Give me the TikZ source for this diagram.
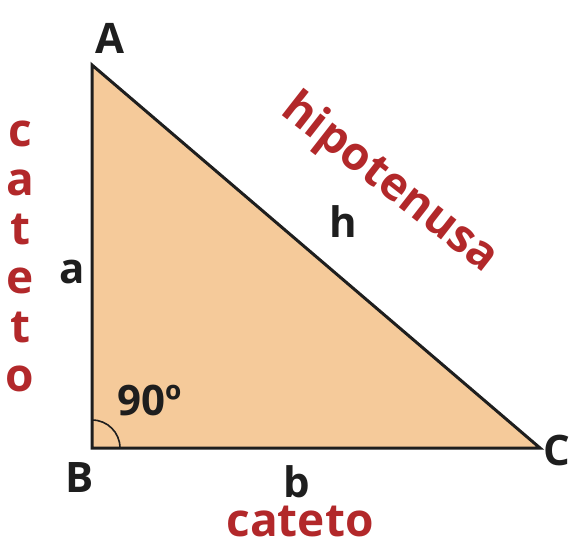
\documentclass[tikz,border=0pt]{standalone}
\usepackage{fontspec}
\setmainfont{Open Sans}
\usepackage{tikz}
\usetikzlibrary{positioning}
\definecolor{triorange}{RGB}{245,202,154}
\definecolor{catred}{RGB}{178,40,42}
\definecolor{edgeblack}{RGB}{30,30,30}

\begin{document}
\begin{tikzpicture}[x=0.5pt, y=0.5pt, font=\bfseries\fontsize{21}{25}\selectfont]
  \useasboundingbox (0,0) rectangle (571,546);
  \tikzset{
    vlabel/.style={text=edgeblack, inner sep=0pt},
    redword/.style={text=catred, inner sep=0pt, font=\bfseries\fontsize{23}{25}\selectfont}
  }
  % vertices
  \coordinate (A) at (92,481);
  \coordinate (B) at (92,98);
  \coordinate (C) at (540,98);
  \fill[triorange] (A) -- (B) -- (C) -- cycle;
  \draw[edgeblack, line width=1.5pt, line join=miter] (A) -- (B) -- (C) -- cycle;
  \draw[edgeblack, line width=0.8pt] ([xshift=14pt]B) arc[start angle=0, end angle=90, radius=14pt];
  % vertex and side labels
  \node[vlabel] (lA) at (110,508) {A};
  \node[vlabel] (lB) at (80,68) {B};
  \node[vlabel] (lC) at (557,96) {C};
  \node[vlabel] (la) at (72,274) {a};
  \node[vlabel] (lh) at (343,324) {h};
  \node[vlabel] (lb) at (297,64) {b};
  \node[vlabel] (ang) at (150,146) {90º};
  % red words
  \node[redword, rotate=-38] (hyp) at (389,362) {hipotenusa};
  \node[redword] (catb) at (300,25) {cateto};
  \node[redword, align=center, font=\bfseries\fontsize{23}{24.5}\selectfont] (cata) at (20,290) {c\\a\\t\\e\\t\\o};
\end{tikzpicture}
\end{document}
